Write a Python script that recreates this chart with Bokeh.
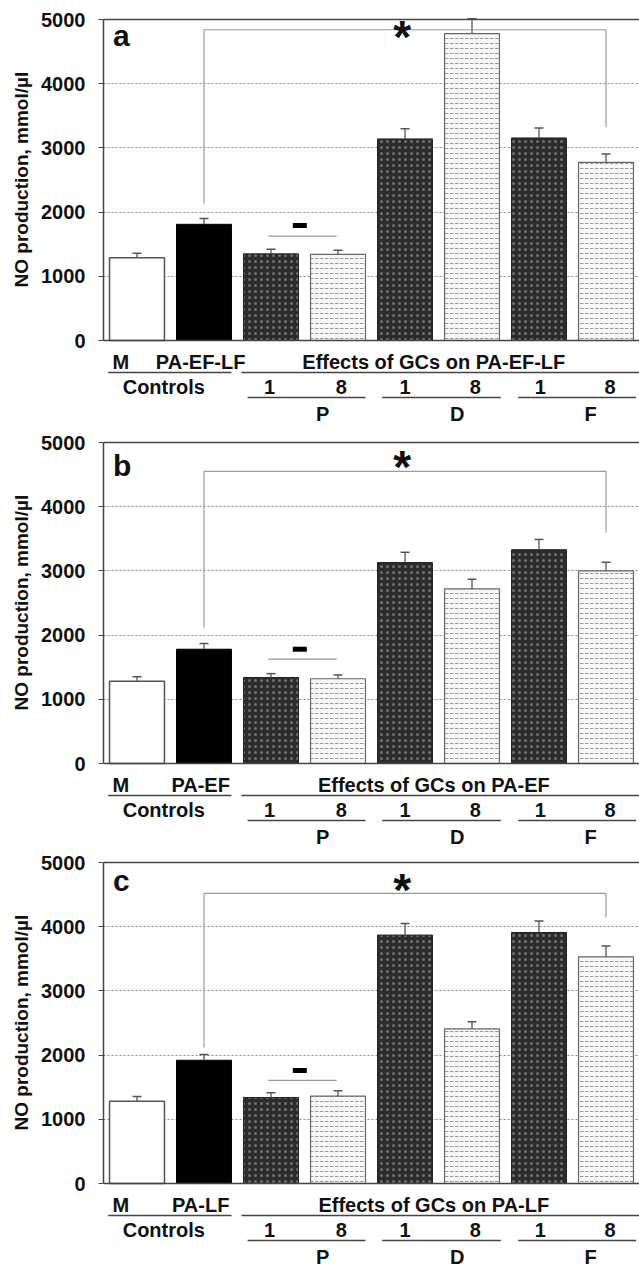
import numpy as np
from bokeh.plotting import figure
from bokeh.layouts import column
from bokeh.models import Range1d, FixedTicker, Span, Title
from bokeh.core.properties import value
from bokeh.embed import file_html
from bokeh.resources import INLINE

# ---------------- data ----------------
categories = ["M", "PA", "P 1", "P 8", "D 1", "D 8", "F 1", "F 8"]
treatments = ["PA-EF-LF", "PA-EF", "PA-LF"]
panel_letters = ["a", "b", "c"]

means_a = [1290, 1810, 1350, 1340, 3140, 4780, 3155, 2775]
errs_a = [70, 90, 70, 65, 160, 230, 155, 130]
means_b = [1280, 1780, 1340, 1320, 3130, 2720, 3330, 3000]
errs_b = [70, 90, 60, 60, 160, 150, 160, 135]
means_c = [1280, 1920, 1340, 1360, 3870, 2410, 3910, 3530]
errs_c = [75, 90, 75, 85, 180, 110, 180, 170]

y_ticks = [0, 1000, 2000, 3000, 4000, 5000]
grid_ticks = [1000, 2000, 3000, 4000]
dose_labels = ["1", "8", "1", "8", "1", "8"]
gc_labels = ["P", "D", "F"]
y_title = "NO production, mmol/\u00b5l"

# significance bracket: [level, left end, right end]
brackets = [[4840, 2130, 3320], [4550, 2115, 3600], [4520, 2120, 4150]]
star_levels = [4735, 4625, 4575]
ns_dash_levels = [1790, 1780, 1760]
ns_line_levels = [1625, 1625, 1605]
letter_levels = [4745, 4645, 4720]

styles = ["white", "black", "dark", "light", "dark", "light", "dark", "light"]

FONT = "Liberation Sans"
W = 639
YMAX = 5000
AXIS_PX = 321          # pixels from 0 to 5000
PAD_TOP = 2            # px above 5000 inside frame (room for top rule)
BELOW_PX = 85          # px of label strip under the x axis, inside frame
S = AXIS_PX / YMAX     # px per data unit


def below(px):
    """data-y of a point px pixels under the x axis"""
    return -px / S


def panel(means, errs, letter, bracket, star_y, dash_y, ns_y, letter_y, treat, top, bottom):
    frame_h = PAD_TOP + AXIS_PX + BELOW_PX
    p = figure(width=W, height=top + frame_h + bottom,
               x_range=Range1d(0, 8), y_range=Range1d(below(BELOW_PX), YMAX + PAD_TOP / S),
               x_axis_location=None, y_axis_location="left", toolbar_location=None,
               output_backend="svg", min_border_left=103, min_border_right=0,
               min_border_top=top, min_border_bottom=bottom,
               background_fill_color="white", border_fill_color="white",
               outline_line_color=None)
    ax = p.yaxis[0]
    ax.ticker = FixedTicker(ticks=y_ticks)
    ax.bounds = (0, YMAX)
    ax.axis_line_color = "#444444"
    ax.axis_line_width = 1.5
    ax.major_tick_line_color = "#444444"
    ax.major_tick_out = 5
    ax.major_tick_in = 0
    ax.minor_tick_line_color = None
    ax.major_label_text_font = FONT
    ax.major_label_text_font_style = "bold"
    ax.major_label_text_font_size = "20px"
    ax.major_label_text_color = "#111111"
    ax.major_label_standoff = 13

    # y title as an outer left-side title, starting 53 px above the x axis
    ttl = Title(text=y_title, align="left", offset=BELOW_PX + 53, standoff=14,
                text_font=FONT, text_font_style="bold", text_font_size="19px",
                text_color="#111111")
    p.add_layout(ttl, "left")

    p.ygrid.ticker = FixedTicker(ticks=grid_ticks)
    p.ygrid.grid_line_color = "#8a8a8a"
    p.ygrid.grid_line_dash = "2 2"
    p.ygrid.grid_line_width = 1
    p.xgrid.visible = False

    # top rule and x axis rule
    p.add_layout(Span(location=YMAX, dimension="width", line_color="#444444", line_width=1.5))
    p.add_layout(Span(location=0, dimension="width", line_color="#444444", line_width=1.5))

    x = np.arange(len(categories)) + 0.5
    means = np.array(means, dtype=float)
    errs = np.array(errs, dtype=float)
    bw = 0.82

    def idx(kind):
        return [i for i, s in enumerate(styles) if s == kind]

    i = idx("white")
    p.vbar(x=x[i], top=means[i], width=bw, fill_color="white", line_color="#555555", line_width=1.5)
    i = idx("black")
    p.vbar(x=x[i], top=means[i], width=bw, fill_color="black", line_color="black", line_width=1)
    i = idx("dark")
    p.vbar(x=x[i], top=means[i], width=bw, fill_color="#2c2c2c", line_color="#222222", line_width=1,
           hatch_pattern="dot", hatch_color="#707070", hatch_scale=6, hatch_weight=1.2)
    i = idx("light")
    p.vbar(x=x[i], top=means[i], width=bw, fill_color="#f7f7f7", line_color="#666666", line_width=1.2,
           hatch_pattern="horizontal_dash", hatch_color="#9a9a9a", hatch_scale=5, hatch_weight=1.0)

    # error bars (upper only)
    p.segment(x0=x, y0=means, x1=x, y1=means + errs, line_color="#555555", line_width=1.3)
    p.scatter(x=x, y=means + errs, marker="dash", size=9, line_color="#555555", line_width=1.5)

    # significance bracket PA -> F 8
    lvl, left_end, right_end = bracket
    p.line(x=[x[1], x[1], x[7], x[7]], y=[left_end, lvl, lvl, right_end],
           line_color="#9a9a9a", line_width=1.2)
    p.text(x=[4.46], y=[star_y], text=["*"], text_font=value(FONT), text_font_style="bold",
           text_font_size=value("46px"), text_align="center", text_baseline="alphabetic",
           text_color="#111111")

    # non-significant marker over P 1 / P 8
    p.segment(x0=[x[2] - 0.04], y0=[ns_y], x1=[x[3] - 0.02], y1=[ns_y], line_color="#9a9a9a", line_width=1.2)
    p.rect(x=[2.93], y=[dash_y], width=14, height=5, width_units="screen", height_units="screen",
           fill_color="black", line_color=None)

    p.text(x=[0.14], y=[letter_y], text=[letter], text_font=value(FONT), text_font_style="bold",
           text_font_size=value("30px"), text_align="left", text_baseline="alphabetic",
           text_color="#111111")

    # ---- grouping labels under the axis ----
    r1, l1, r2, l2, r3 = below(21), below(32), below(46), below(57), below(73)
    kw = dict(text_font=value(FONT), text_font_style="bold", text_font_size=value("20px"),
              text_align="center", text_baseline="middle", text_color="#111111")
    p.text(x=[0.26, 1.45, 4.93], y=[r1] * 3,
           text=[categories[0], treat, "Effects of GCs on " + treat], **kw)
    p.segment(x0=[0.07, 2.06], y0=[l1, l1], x1=[1.91, 8.0], y1=[l1, l1], line_color="#444444", line_width=1.5)
    p.text(x=[0.9], y=[r2], text=["Controls"], **kw)
    p.text(x=[2.48, 3.55, 4.5, 5.55, 6.52, 7.56], y=[r2] * 6, text=dose_labels, **kw)
    p.segment(x0=[2.15, 4.16, 6.19], y0=[l2] * 3, x1=[3.91, 5.93, 7.95], y1=[l2] * 3,
              line_color="#444444", line_width=1.5)
    p.text(x=[3.27, 5.28, 7.27], y=[r3] * 3, text=gc_labels, **kw)
    return p


all_means = [means_a, means_b, means_c]
all_errs = [errs_a, errs_b, errs_c]
tops = [17, 15, 12]
bottoms = [0, 0, 2]

figs = []
for k in range(3):
    figs.append(panel(all_means[k], all_errs[k], panel_letters[k], brackets[k],
                      star_levels[k], ns_dash_levels[k], ns_line_levels[k], letter_levels[k],
                      treatments[k], tops[k], bottoms[k]))

layout = column(*figs, spacing=0)
open("out.html", "w").write(file_html(layout, INLINE))
